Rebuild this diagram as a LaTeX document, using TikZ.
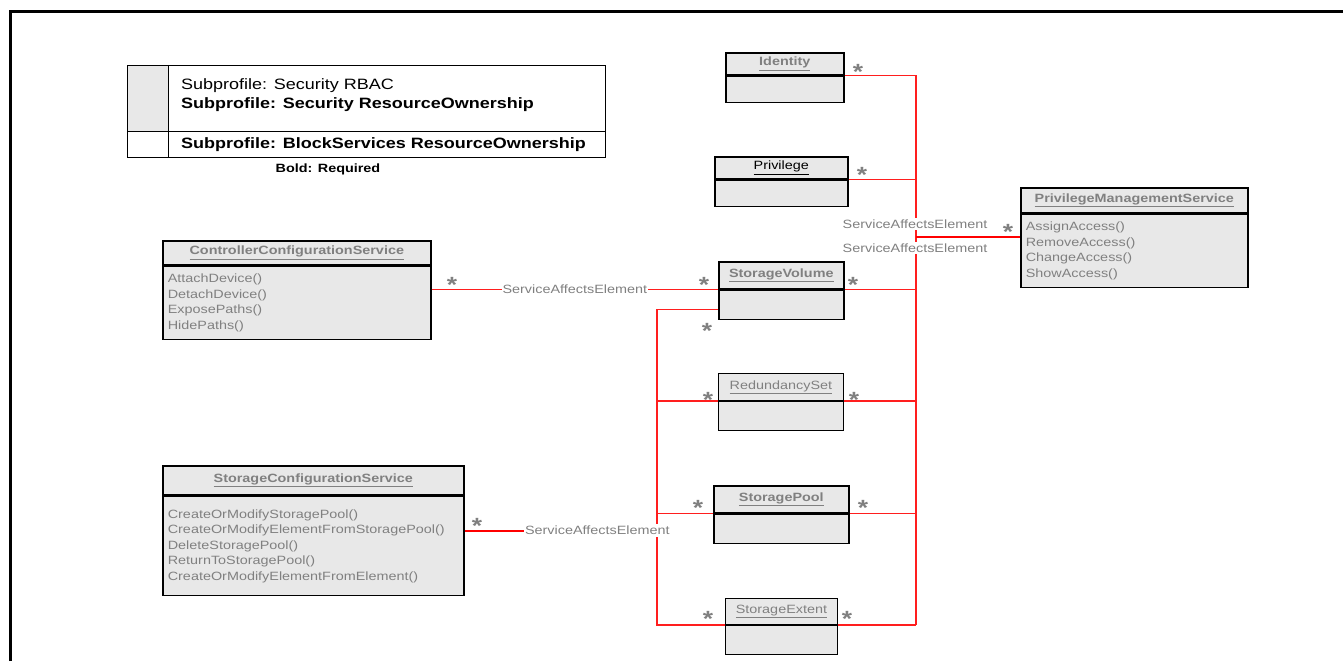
\documentclass[tikz,border=0pt]{standalone}
\usepackage{fontspec}
\setmainfont{Liberation Sans}[FakeStretch=1.2]
\definecolor{boxfill}{RGB}{232,232,232}
\definecolor{txtgray}{RGB}{128,128,128}
\definecolor{linkred}{RGB}{255,30,30}
\begin{document}
\begin{tikzpicture}[
		x=1pt, y=-1pt, line join=miter,
		every node/.style={font=\fontsize{12}{15.5}\selectfont, inner sep=0pt},
		classhead/.style={draw, fill=boxfill, line width=1.6pt, anchor=north west, text=txtgray,
			font=\fontsize{12}{14}\selectfont\bfseries},
		classbody/.style={draw, fill=boxfill, line width=1.6pt, anchor=north, text=txtgray,
			align=left, inner xsep=5pt},
		thinbox/.style={line width=0.9pt, font=\fontsize{12}{14}\selectfont},
		assoc/.style={draw=linkred, line width=1.5pt},
		mainassoc/.style={draw=red, line width=2.2pt},
		assoclabel/.style={fill=white, text=txtgray, inner xsep=1pt, inner ysep=2pt},
		mult/.style={text=txtgray, font=\fontsize{22}{22}\selectfont\bfseries, yshift=-5pt},
		]
		\useasboundingbox (0,0) rectangle (1343,661);
		
		% 1. FRAME AND LEGEND
		\draw[line width=3pt] (10,661) -- (10,12) -- (1343,12);
		\fill[boxfill] (127,65) rectangle (168,131);
		\draw[line width=0.8pt] (127,65) rectangle (605,157);
		\draw[line width=0.8pt] (127,131) -- (605,131);
		\draw[line width=0.8pt] (168,65) -- (168,157);
		\node[anchor=west, font=\fontsize{15}{17}\selectfont] (rbac) at (181,86) {Subprofile: Security RBAC};
		\node[anchor=west, font=\fontsize{15}{17}\selectfont\bfseries] (secown) at (181,105) {Subprofile: Security ResourceOwnership};
		\node[anchor=west, font=\fontsize{15}{17}\selectfont\bfseries] (blkown) at (181,145) {Subprofile: BlockServices ResourceOwnership};
		\node[font=\fontsize{12}{14}\selectfont\bfseries] (boldreq) at (328,169) {Bold: Required};
		
		% 2. CLASSES
		\node[classhead, minimum width=118pt, minimum height=22pt] (idT) at (725,52) {\underline{Identity}};
		\node[classbody, minimum width=118pt, minimum height=26pt] (idB) at (idT.south) {};
		
		\node[classhead, minimum width=133pt, minimum height=22pt, text=black,
			font=\fontsize{12}{14}\selectfont] (prT) at (714,156) {\underline{Privilege}};
		\node[classbody, minimum width=133pt, minimum height=26pt] (prB) at (prT.south) {};
		
		\node[classhead, minimum width=227pt, minimum height=25pt] (pmsT) at (1020,187) {\underline{PrivilegeManagementService}};
		\node[classbody, text width=217pt, minimum height=73pt] (pmsB) at (pmsT.south)
			{AssignAccess()\\RemoveAccess()\\ChangeAccess()\\ShowAccess()};
		
		\node[classhead, minimum width=268pt, minimum height=24pt] (ccsT) at (162,240) {\underline{ControllerConfigurationService}};
		\node[classbody, text width=258pt, minimum height=73pt] (ccsB) at (ccsT.south)
			{AttachDevice()\\DetachDevice()\\ExposePaths()\\HidePaths()};
		
		\node[classhead, minimum width=301pt, minimum height=29pt] (scsT) at (162,465) {\underline{StorageConfigurationService}};
		\node[classbody, text width=291pt, minimum height=99pt] (scsB) at (scsT.south)
			{CreateOrModifyStoragePool()\\CreateOrModifyElementFromStoragePool()\\DeleteStoragePool()\\%
			ReturnToStoragePool()\\CreateOrModifyElementFromElement()\\[14pt]};
		
		\node[classhead, minimum width=125pt, minimum height=27pt] (svT) at (718,261) {\underline{StorageVolume}};
		\node[classbody, minimum width=125pt, minimum height=29pt] (svB) at (svT.south) {};
		
		\node[classhead, thinbox, minimum width=125pt, minimum height=27pt] (rsT) at (718,373) {\underline{RedundancySet}};
		\node[classbody, thinbox, minimum width=125pt, minimum height=29pt] (rsB) at (rsT.south) {};
		
		\node[classhead, minimum width=135pt, minimum height=27pt] (spT) at (713,485) {\underline{StoragePool}};
		\node[classbody, minimum width=135pt, minimum height=29pt] (spB) at (spT.south) {};
		
		\node[classhead, thinbox, minimum width=112pt, minimum height=26pt] (seT) at (725,598) {\underline{StorageExtent}};
		\node[classbody, thinbox, minimum width=112pt, minimum height=29pt] (seB) at (seT.south) {};
		
		% 3. ASSOCIATIONS
		\coordinate (lx) at (657,0);
		\coordinate (rx) at (916,0);
		
		\draw[assoc] (idT.south east) -- (idT.south east -| rx) -- (seT.south east -| rx);
		\draw[assoc] (prT.south east) -- (prT.south east -| rx);
		\draw[assoc] (svT.south east) -- (svT.south east -| rx);
		\draw[assoc] (rsT.south east) -- (rsT.south east -| rx);
		\draw[assoc] (spT.south east) -- (spT.south east -| rx);
		\draw[assoc] (seT.south east) -- (seT.south east -| rx);
		
		\draw[assoc] ([yshift=-20pt]svT.south west) -| (seT.south west -| lx) -- (seT.south west);
		\draw[assoc] (rsT.south west) -- (rsT.south west -| lx);
		\draw[assoc] (spT.south west) -- (spT.south west -| lx);
		
		\draw[assoc] (svT.south west -| ccsB.east) -- (svT.south west)
			node[assoclabel, midway] (lblCcs) {ServiceAffectsElement};
		
		\coordinate (scsOut) at ([yshift=-35pt]scsB.north east);
		\draw[mainassoc] (scsOut) -- (scsOut -| lx)
			node[assoclabel, pos=0.69] (lblScs) {ServiceAffectsElement};
		
		\coordinate (pmsIn) at ([yshift=-23pt]pmsB.north west);
		\draw[mainassoc] (pmsIn -| rx) -- (pmsIn);
		\node[assoclabel] (lblPmsA) at (915,224) {ServiceAffectsElement};
		\node[assoclabel] (lblPmsB) at (915,248) {ServiceAffectsElement};
		
		% 4. MULTIPLICITIES
		\node[mult] (mId) at (858,67) {*};
		\node[mult] (mPr) at (862,170) {*};
		\node[mult] (mPms) at (1008,227) {*};
		\node[mult] (mCcs) at (452,280) {*};
		\node[mult] (mSvL) at (704,280) {*};
		\node[mult] (mSvR) at (853,280) {*};
		\node[mult] (mSvB) at (707,326) {*};
		\node[mult] (mRsL) at (708,395) {*};
		\node[mult] (mRsR) at (854,395) {*};
		\node[mult] (mSpL) at (698,503) {*};
		\node[mult] (mSpR) at (863,503) {*};
		\node[mult] (mSeL) at (708,614) {*};
		\node[mult] (mSeR) at (847,614) {*};
		\node[mult] (mScs) at (477,521) {*};
		
\end{tikzpicture}
\end{document}
